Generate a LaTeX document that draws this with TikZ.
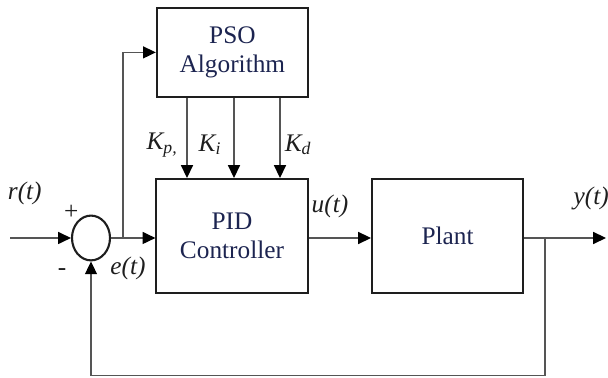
\documentclass[tikz,border=0pt]{standalone}
\usepackage{fontspec}
\setmainfont{Liberation Serif}
\usepackage{xcolor}
\definecolor{cLine}{HTML}{1E1E1E}
\definecolor{cText}{HTML}{1C2450}
\definecolor{cGray}{HTML}{555555}
\usepackage{tikz}
\usetikzlibrary{positioning,arrows.meta,shapes.geometric}
\tikzset{
  node-box/.style={draw=cLine,line width=1.4pt,minimum width=3.78cm,
    minimum height=2.85cm,align=center,text=cText,
    font=\fontsize{18}{21}\selectfont},
  node-sum/.style={draw=cLine,line width=1.5pt,ellipse,inner sep=0pt,
    minimum width=0.95cm,minimum height=1.12cm},
  arrow/.style={-{Triangle[length=3.2mm,width=3mm,color=black]},
    line width=0.9pt,draw=cGray},
  sig-label/.style={font=\fontsize{18}{21}\selectfont\itshape,text=cLine},
  sign-label/.style={font=\fontsize{18}{21}\selectfont,text=cLine},
}

\begin{document}
\begin{tikzpicture}
  \useasboundingbox (0,0) rectangle (15.2,9.45);
  % blocks
  \node[node-sum] (sum) at (2.275,3.5) {};
  \node[node-box] (pid) at (5.8,3.55) {PID\\Controller};
  \node[node-box,minimum height=2.23cm] (pso) at (5.81,8.14) {PSO\\Algorithm};
  \node[node-box] (plant) at (11.19,3.55) {Plant};
  % free ends and branch points
  \coordinate (in) at (0.25,3.5);
  \coordinate (out) at (15.15,3.5);
  \coordinate (ebranch) at (3.075,3.5);
  \coordinate (ybranch) at (13.625,3.5);
  \coordinate (fb) at (0,0.07);
  % forward path
  \draw[arrow] (in) -- (sum.west);
  \draw[arrow] (sum.east) -- (sum.east -| pid.west);
  \draw[arrow] (sum.east -| pid.east) -- (sum.east -| plant.west);
  \draw[arrow] (out -| plant.east) -- (out);
  % tuning path
  \draw[arrow] (ebranch) |- (pso.west);
  \foreach \xk in {4.675,5.85,7.0}
    \draw[arrow] (pso.south -| \xk,0) -- (pid.north -| \xk,0);
  % feedback
  \draw[arrow] (ybranch) -- (ybranch |- fb) -| (sum.south);
  % labels
  \node[sig-label] (r-lab) at (0.62,4.62) {r(t)};
  \node[sig-label] (e-lab) at (3.2,2.75) {e(t)};
  \node[sig-label] (u-lab) at (8.25,4.3) {u(t)};
  \node[sig-label] (y-lab) at (14.78,4.5) {y(t)};
  \node[sign-label] (plus) at (1.78,4.15) {+};
  \node[sign-label] (minus) at (1.55,2.65) {-};
  \node[sig-label] (kp-lab) at (4.05,5.83) {K\textsubscript{p,}};
  \node[sig-label] (ki-lab) at (5.25,5.83) {K\textsubscript{i}};
  \node[sig-label] (kd-lab) at (7.45,5.83) {K\textsubscript{d}};
\end{tikzpicture}
\end{document}
